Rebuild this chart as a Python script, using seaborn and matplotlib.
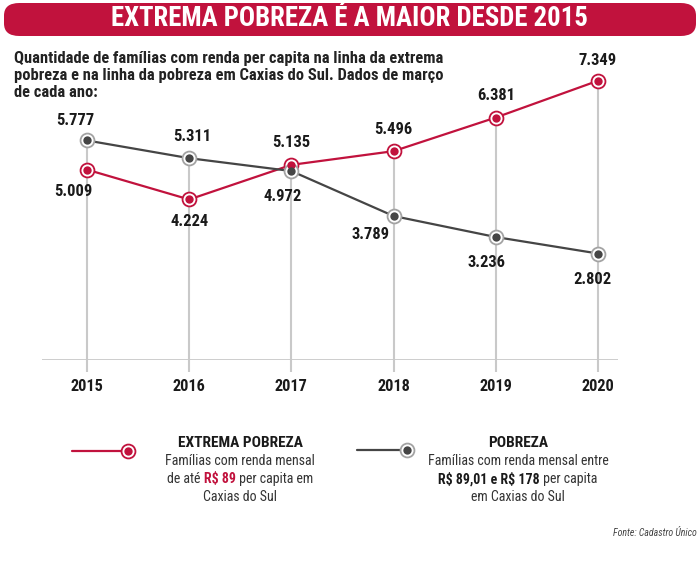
import pandas as pd
import seaborn as sns
import matplotlib.pyplot as plt
from matplotlib import font_manager as fm
from matplotlib.patches import FancyBboxPatch
from matplotlib.lines import Line2D

# data
years = [2015, 2016, 2017, 2018, 2019, 2020]
extrema = [5009, 4224, 5135, 5496, 6381, 7349]
pobreza = [5777, 5311, 4972, 3789, 3236, 2802]
extrema_labels = ["5.009", "4.224", "5.135", "5.496", "6.381", "7.349"]
pobreza_labels = ["5.777", "5.311", "4.972", "3.789", "3.236", "2.802"]

RED = "#c1123d"
DARK = "#454545"
GRID = "#c9c9c9"
W, H = 700, 567

sns.set_theme(style="white")

# pick a narrow face if one is installed
fonts = fm.fontManager.ttflist
names = {f.name for f in fonts}
STRETCH = "normal"
if "Roboto Condensed" in names:
    FAM = "Roboto Condensed"
elif "Liberation Sans Narrow" in names:
    FAM = "Liberation Sans Narrow"
elif any(f.name == "DejaVu Sans" and "Condensed" in f.fname for f in fonts):
    FAM, STRETCH = "DejaVu Sans", "condensed"
else:
    FAM = "Roboto"
plt.rcParams["font.family"] = [FAM, "DejaVu Sans"]
plt.rcParams["font.stretch"] = STRETCH
plt.rcParams["text.parse_math"] = False


def fx(px):
    return px / W


def fy(py):
    return 1 - py / H


fig = plt.figure(figsize=(7, 5.67), dpi=100)
fig.patch.set_facecolor("white")
renderer = fig.canvas.get_renderer()


def fit(t, target):
    w = t.get_window_extent(renderer).width
    t.set_fontsize(t.get_fontsize() * target / w)
    return t.get_fontsize()


# title banner
banner = FancyBboxPatch((fx(4), fy(36)), fx(692), 33 / H,
                        boxstyle="round,pad=0,rounding_size=0.022",
                        transform=fig.transFigure, facecolor=RED,
                        edgecolor="none")
fig.patches.append(banner)
title = fig.text(fx(349), fy(19), "EXTREMA POBREZA É A MAIOR DESDE 2015",
                 color="white", fontsize=17, fontweight="bold",
                 ha="center", va="center")
fit(title, 478)

sub = fig.text(fx(14), fy(51), "Quantidade de famílias com renda per capita na linha da extrema\n"
               "pobreza e na linha da pobreza em Caxias do Sul. Dados de março\n"
               "de cada ano:", fontsize=11, fontweight="bold", color="#222222",
               ha="left", va="top", linespacing=1.2)
fs = fit(sub, 428)
sub.set_linespacing(19 / (fs * 100 / 72))

ax = fig.add_axes([fx(42), fy(360), fx(576), 304 / H])
ax.set_facecolor("none")

df = pd.DataFrame({
    "ano": years * 2,
    "valor": extrema + pobreza,
    "serie": ["extrema"] * 6 + ["pobreza"] * 6,
})
pal = {"extrema": RED, "pobreza": DARK}

top = [max(a, b) for a, b in zip(extrema, pobreza)]
ax.vlines(years, -320, top, color=GRID, lw=1.5, zorder=1, clip_on=False)
ax.axhline(0, color=GRID, lw=1.3, zorder=1)

sns.lineplot(data=df, x="ano", y="valor", hue="serie", palette=pal, lw=1.6,
             legend=False, ax=ax, zorder=2)
ring = {"extrema": RED, "pobreza": "#a3a3a3"}
for serie, g in df.groupby("serie"):
    ax.plot(g["ano"], g["valor"], ls="none", marker="o", ms=10, mfc="white",
            mec=ring[serie], mew=1.3, zorder=3)
    ax.plot(g["ano"], g["valor"], ls="none", marker="o", ms=6, mfc=pal[serie],
            mec="none", zorder=4)

ext_off = [(-14, -22), (0, -22), (0, 22), (0, 22), (0, 22), (0, 20)]
pob_off = [(-12, 20), (3, 22), (-9, -25), (-23, -18), (-9, -25), (-6, -26)]
probe = fig.text(0, 0, "5.777", fontsize=12, fontweight="bold")
lab_fs = fit(probe, 38)
probe.remove()
for vals, labs, offs in [(extrema, extrema_labels, ext_off),
                         (pobreza, pobreza_labels, pob_off)]:
    for x, v, lab, off in zip(years, vals, labs, offs):
        ax.annotate(lab, (x, v), xytext=off, textcoords="offset pixels",
                    ha="center", va="center", fontsize=lab_fs,
                    fontweight="bold", color="#1a1a1a")

probe = fig.text(0, 0, "2015", fontsize=11, fontweight="bold")
yr_fs = fit(probe, 33)
probe.remove()
ax.set_xlim(2015 - 45 / 102.2, 2020 + 20 / 102.2)
ax.set_ylim(0, 8000)
ax.set_xticks(years)
ax.set_xticklabels([str(y) for y in years], fontsize=yr_fs, fontweight="bold",
                   color="#1a1a1a")
ax.set_yticks([])
ax.tick_params(axis="x", length=0, pad=14)
ax.set_xlabel("")
ax.set_ylabel("")
sns.despine(ax=ax, left=True, bottom=True)

# legend
fig.lines.append(Line2D([fx(72), fx(128)], [fy(451), fy(451)], color=RED, lw=1.6,
                        transform=fig.transFigure))
fig.lines.append(Line2D([fx(357), fx(407)], [fy(450), fy(450)], color=DARK, lw=1.6,
                        transform=fig.transFigure))
for xp, yp, c, rc in [(128, 451, RED, RED), (407, 450, DARK, "#a3a3a3")]:
    fig.lines.append(Line2D([fx(xp)], [fy(yp)], ls="none", marker="o", ms=10,
                            mfc="white", mec=rc, mew=1.3, transform=fig.transFigure))
    fig.lines.append(Line2D([fx(xp)], [fy(yp)], ls="none", marker="o", ms=6,
                            mfc=c, mec="none", transform=fig.transFigure))

head = fig.text(fx(240), fy(443), "EXTREMA POBREZA", fontsize=11, fontweight="bold",
                ha="center", va="center", color="#1a1a1a")
head_fs = fit(head, 125)
fig.text(fx(518), fy(443), "POBREZA", fontsize=head_fs, fontweight="bold",
         ha="center", va="center", color="#1a1a1a")

probe = fig.text(0, 0, "Famílias com renda mensal", fontsize=10)
body_fs = fit(probe, 150)
probe.remove()


def rich_line(xc, yc, parts):
    objs = []
    for s, wgt, col in parts:
        objs.append(fig.text(0, fy(yc), s, fontsize=body_fs, fontweight=wgt,
                             color=col, ha="left", va="center"))
    widths = [t.get_window_extent(renderer).width for t in objs]
    x = xc - sum(widths) / 2
    for t, w in zip(objs, widths):
        t.set_position((fx(x), fy(yc)))
        x += w


TXT = "#333333"
rich_line(240, 461, [("Famílias com renda mensal", "normal", TXT)])
rich_line(240, 479, [("de até ", "normal", TXT), ("R$ 89", "bold", RED),
                     (" per capita em", "normal", TXT)])
rich_line(240, 497, [("Caxias do Sul", "normal", TXT)])
rich_line(518, 461, [("Famílias com renda mensal entre", "normal", TXT)])
rich_line(518, 479, [("R$ 89,01 e R$ 178", "bold", "#1a1a1a"),
                     (" per capita", "normal", TXT)])
rich_line(518, 497, [("em Caxias do Sul", "normal", TXT)])

src = fig.text(fx(697), fy(533), "Fonte: Cadastro Único", fontsize=7,
               style="italic", ha="right", va="center", color="#444444")
fit(src, 84)

fig.savefig("out.png", dpi=100)
